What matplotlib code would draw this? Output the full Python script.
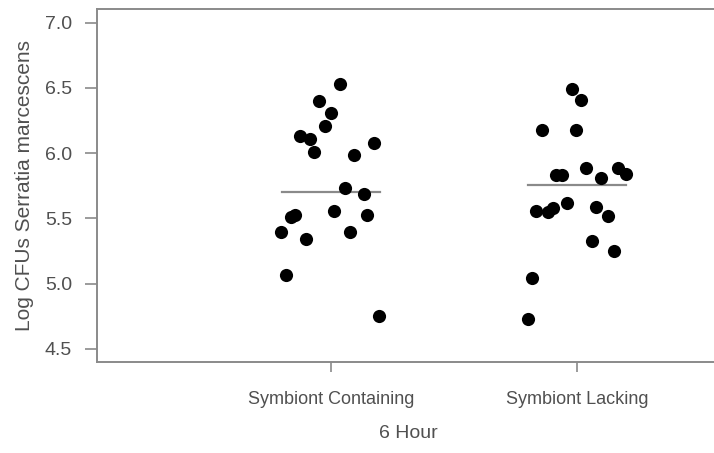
import numpy as np
import matplotlib.pyplot as plt

plt.rcParams["font.family"] = ["Liberation Sans", "DejaVu Sans"]

# log CFU counts per fly, 6 hour time point
groups = ["Symbiont Containing", "Symbiont Lacking"]
containing = [6.53, 6.40, 6.31, 6.21, 6.13, 6.11, 6.01, 5.99, 6.08, 5.73,
              5.69, 5.53, 5.51, 5.40, 5.34, 5.56, 5.53, 5.40, 5.07, 4.75]
lacking = [6.49, 6.41, 6.18, 6.18, 5.83, 5.83, 5.89, 5.81, 5.89, 5.84,
           5.56, 5.55, 5.58, 5.62, 5.59, 5.52, 5.33, 5.25, 5.04, 4.73]
# horizontal jitter used for the strip plot
containing_jitter = [0.037, -0.049, 0.0, -0.024, -0.126, -0.085, -0.069, 0.093, 0.175, 0.057,
                     0.134, -0.146, -0.163, -0.203, -0.102, 0.012, 0.146, 0.077, -0.183, 0.195]
lacking_jitter = [-0.020, 0.016, -0.142, -0.004, -0.085, -0.061, 0.037, 0.098, 0.167, 0.199,
                  -0.167, -0.118, -0.098, -0.041, 0.077, 0.126, 0.061, 0.150, -0.183, -0.199]
center_lines = [5.70, 5.76]

grey = "#8a8a8a"
text_grey = "#505050"

fig = plt.figure(figsize=(7.14, 4.53), dpi=100)
ax = fig.add_axes([97 / 714, 91 / 453, 623 / 714, 353 / 453])

for i, (vals, jit) in enumerate([(containing, containing_jitter), (lacking, lacking_jitter)]):
    ax.scatter(i + np.array(jit), vals, s=90, color="black", zorder=3, linewidths=0)
    ax.plot([i - 0.2, i + 0.2], [center_lines[i]] * 2, color=grey, lw=1.6, zorder=2)

ax.set_xlim(-0.951, 1.581)
ax.set_ylim(4.40, 7.105)
ax.set_yticks([4.5, 5.0, 5.5, 6.0, 6.5, 7.0])
ax.set_yticklabels([f"{v:.1f}" for v in [4.5, 5.0, 5.5, 6.0, 6.5, 7.0]])
ax.set_xticks([0, 1])
ax.set_xticklabels(groups, fontsize=13)

for s in ax.spines.values():
    s.set_color(grey)
    s.set_linewidth(1.4)
ax.spines["right"].set_visible(False)

ax.tick_params(axis="y", colors=grey, labelcolor=text_grey, labelsize=14, length=9, width=1.2, pad=9)
ax.tick_params(axis="x", colors=grey, labelcolor=text_grey, length=7, width=1.2, pad=14)

ax.set_ylabel("Log CFUs Serratia marcescens", fontsize=15, color=text_grey, labelpad=8)
ax.set_xlabel("6 Hour", fontsize=14, color=text_grey, labelpad=12)

fig.savefig("out.png", dpi=100, facecolor="white")
